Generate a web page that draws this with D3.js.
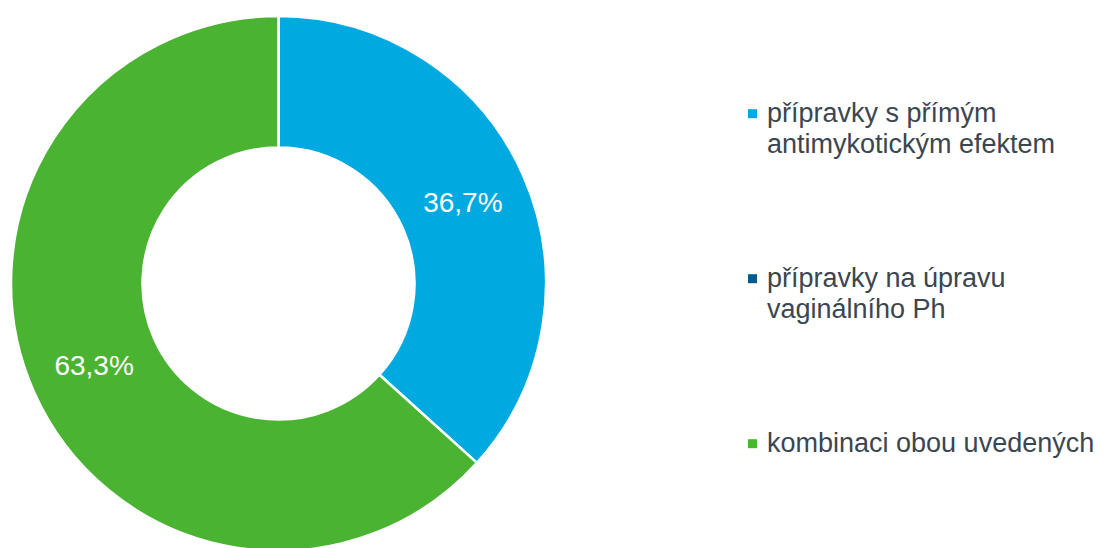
<!DOCTYPE html>
<html lang="cs">

<head>
  <meta charset="utf-8">
  <title>Donut</title>
  <script src="https://cdn.jsdelivr.net/npm/d3@7"></script>
  <style>
    body { margin: 0; background: #fff; }
    text { font-family: "Liberation Sans", Arial, sans-serif; }
  </style>
</head>

<body>
  <script>
    var categories = [
      "přípravky s přímým antimykotickým efektem",
      "přípravky na úpravu vaginálního Ph",
      "kombinaci obou uvedených"
    ];
    var values = [36.7, 0, 63.3];
    var colors = ["#00a9e0", "#005b8e", "#4bb332"];

    var w = 1104;
    var h = 548;
    var cx = 278.5;
    var cy = 283.5;
    var outerR = 267.5;
    var innerR = 136;

    var svg = d3.select("body").append("svg")
                .attr("width", w)
                .attr("height", h);

    var data = categories.map(function (name, i) {
      return { name: name, value: values[i], color: colors[i] };
    });

    var pie = d3.pie()
                .sort(null)
                .value(function (d) { return d.value; });
    var arc = d3.arc()
                .innerRadius(innerR)
                .outerRadius(outerR);

    var donut = svg.append("g")
                   .attr("transform", "translate(" + cx + "," + cy + ")");

    var slices = pie(data).filter(function (d) { return d.data.value > 0; });

    donut.selectAll(".slice")
         .data(slices)
         .enter()
           .append("path")
           .classed("slice", true)
           .attr("d", arc)
           .attr("fill", function (d) { return d.data.color; })
           .attr("stroke", "#fff")
           .attr("stroke-width", 2.5)
           .attr("stroke-linejoin", "round");

    donut.selectAll(".pct")
         .data(slices)
         .enter()
           .append("text")
           .classed("pct", true)
           .attr("transform", function (d) {
             return "translate(" + arc.centroid(d) + ")";
           })
           .attr("dy", "0.36em")
           .attr("text-anchor", "middle")
           .attr("fill", "#fff")
           .style("font-size", "28px")
           .text(function (d) {
             return d.data.value.toFixed(1).replace(".", ",") + "%";
           });

    // legend
    var legX = 748;
    var legY = 121.7;
    var legStep = 165;
    var lineH = 31.5;
    var maxW = 336;

    var legend = svg.append("g").classed("legend", true);
    var items = legend.selectAll(".item")
                      .data(data)
                      .enter()
                        .append("g")
                        .classed("item", true)
                        .attr("transform", function (d, i) {
                          return "translate(" + legX + "," + (legY + i * legStep) + ")";
                        });

    items.append("rect")
         .attr("x", 0)
         .attr("y", -12.5)
         .attr("width", 9)
         .attr("height", 9)
         .attr("fill", function (d) { return d.color; });

    items.append("text")
         .attr("x", 19)
         .attr("fill", "#3b4650")
         .style("font-size", "27px")
         .each(function (d) {
           var t = d3.select(this);
           var words = d.name.split(" ");
           var line = [];
           var n = 0;
           var tspan = t.append("tspan").attr("x", 19).attr("y", 0);
           words.forEach(function (word) {
             line.push(word);
             tspan.text(line.join(" "));
             if (tspan.node().getComputedTextLength() > maxW && line.length > 1) {
               line.pop();
               tspan.text(line.join(" "));
               line = [word];
               n += 1;
               tspan = t.append("tspan").attr("x", 19).attr("y", n * lineH).text(word);
             }
           });
         });
  </script>
</body>

</html>
